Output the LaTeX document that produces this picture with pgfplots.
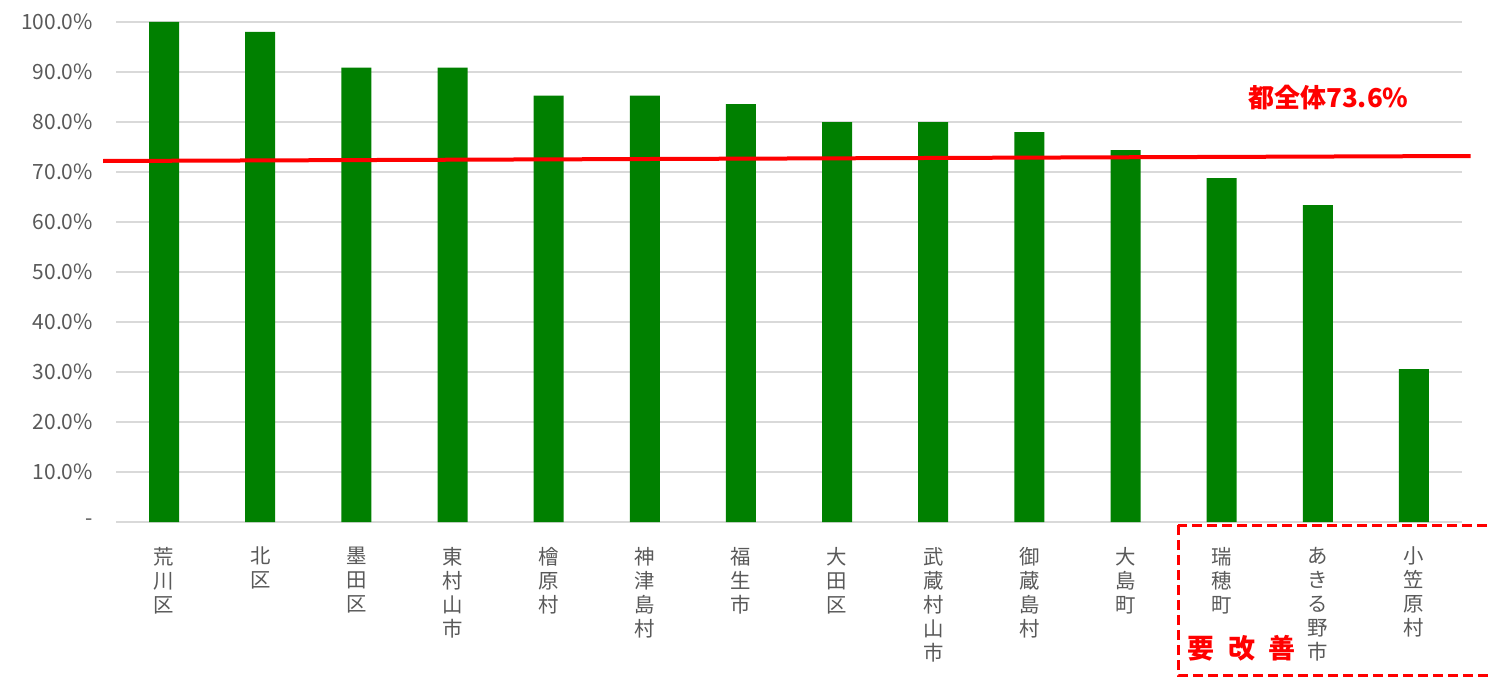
\documentclass[border=0pt]{standalone}
\usepackage{pgfplots}
\pgfplotsset{compat=1.18}
\usepackage{fontspec}
\setmainfont{Noto Sans CJK JP}
\definecolor{bargreen}{RGB}{0,128,0}
\definecolor{labgray}{RGB}{89,89,89}
\definecolor{gridgray}{RGB}{217,217,217}
\begin{document}
\begin{tikzpicture}
\path[use as bounding box] (-58pt,-77pt) rectangle (686.5pt,261pt);
\begin{axis}[
  at={(0pt,0pt)}, anchor=south west,
  scale only axis,
  width=673pt, height=250pt,
  xmin=-0.5, xmax=13.5,
  ymin=0, ymax=100,
  clip=false,
  axis line style={draw=none},
  major tick length=0pt,
  ytick={0,10,...,100},
  yticklabels={-,10.0\%,20.0\%,30.0\%,40.0\%,50.0\%,60.0\%,70.0\%,80.0\%,90.0\%,100.0\%},
  xtick={0,...,13},
  xticklabels={荒\\川\\区, 北\\区, 墨\\田\\区, 東\\村\\山\\市, 檜\\原\\村, 神\\津\\島\\村, 福\\生\\市, 大\\田\\区, 武\\蔵\\村\\山\\市, 御\\蔵\\島\\村, 大\\島\\町, 瑞\\穂\\町, あ\\き\\る\\野\\市, 小\\笠\\原\\村},
  ymajorgrids,
  grid style={gridgray, line width=0.9pt},
  yticklabel style={text=labgray, font=\fontsize{10.5}{12}\selectfont, xshift=-8pt},
  xticklabel style={text=labgray, align=center, font=\fontsize{10.2}{12}\selectfont, anchor=north, yshift=-9pt},
  /pgf/number format/assume math mode=true,
]
\addplot[ybar, bar width=15pt, fill=bargreen, draw=none] coordinates {
 (0,100.0) (1,98.0) (2,90.9) (3,90.9) (4,85.3) (5,85.3) (6,83.6)
 (7,80.0) (8,80.0) (9,78.0) (10,74.4) (11,68.8) (12,63.4) (13,30.6)
};
\addplot[red, line width=2pt, no marks] coordinates {(-0.635,72.2) (13.59,73.2)};
\node[text=red, font=\fontsize{13}{13}\selectfont\bfseries] at (axis cs:12.11,84.8) {都全体73.6\%};
\node[text=red, font=\fontsize{13.5}{14}\selectfont\bfseries] at (axis cs:11.21,-25.2) {要\hspace{0.5em}改\hspace{0.5em}善};
\draw[red, line width=1.5pt, dash pattern=on 5pt off 2.5pt] (axis cs:10.55,-0.6) rectangle (axis cs:13.95,-30.6);
\end{axis}
\end{tikzpicture}
\end{document}
